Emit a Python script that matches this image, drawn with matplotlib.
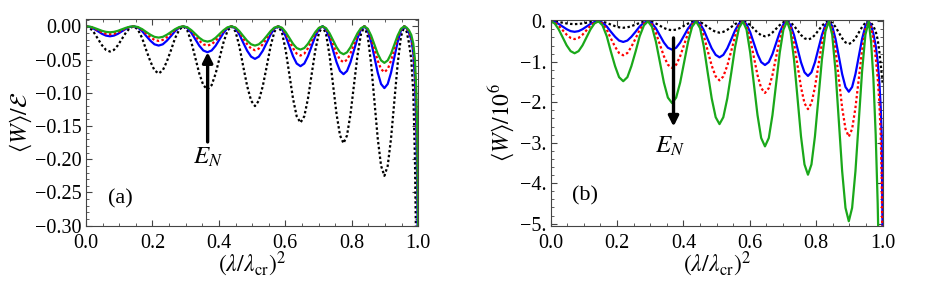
import numpy as np
import matplotlib
matplotlib.use('Agg')
import matplotlib.pyplot as plt
from matplotlib.ticker import MultipleLocator, FuncFormatter

plt.rcParams['font.family'] = ['Liberation Serif', 'DejaVu Serif']
plt.rcParams['mathtext.fontset'] = 'stix'

# x values (lambda/lambda_cr)^2, shared by both panels, 12 readings per hump + the tail
x = [0.000, 0.012, 0.024, 0.036, 0.048, 0.060, 0.072, 0.084, 0.096, 0.108, 0.120, 0.132,
     0.144, 0.156, 0.169, 0.181, 0.194, 0.206, 0.2185, 0.231, 0.243, 0.256, 0.268, 0.281,
     0.293, 0.305, 0.317, 0.329, 0.341, 0.353, 0.3655, 0.378, 0.390, 0.402, 0.414, 0.426,
     0.438, 0.450, 0.4615, 0.473, 0.485, 0.497, 0.5085, 0.520, 0.532, 0.544, 0.5555, 0.567,
     0.579, 0.590, 0.601, 0.612, 0.623, 0.634, 0.6455, 0.657, 0.668, 0.679, 0.690, 0.701,
     0.712, 0.7225, 0.733, 0.7435, 0.754, 0.7645, 0.775, 0.7855, 0.796, 0.8065, 0.817, 0.8275,
     0.838, 0.848, 0.858, 0.868, 0.878, 0.888, 0.898, 0.908, 0.918, 0.928, 0.938, 0.948,
     0.958, 0.965, 0.972, 0.979, 0.985, 0.990, 0.994, 0.997, 1.000]

# panel (a): <W>/E
a_black = [0, -.0025, -.0095, -.019, -.0285, -.0355, -.038, -.0355, -.0285, -.019, -.0095, -.0025,
           0, -.0048, -.0178, -.0355, -.0533, -.0662, -.071, -.0662, -.0533, -.0355, -.0178, -.0048,
           0, -.0064, -.0238, -.0475, -.0713, -.0886, -.095, -.0886, -.0713, -.0475, -.0238, -.0064,
           0, -.008, -.030, -.060, -.090, -.112, -.120, -.112, -.090, -.060, -.030, -.008,
           0, -.0097, -.0363, -.0725, -.1088, -.1353, -.145, -.1353, -.1088, -.0725, -.0363, -.0097,
           0, -.0118, -.044, -.088, -.132, -.1642, -.176, -.1642, -.132, -.088, -.044, -.0118,
           0, -.0151, -.0563, -.1125, -.1688, -.2099, -.225, -.2099, -.1688, -.1125, -.0563, -.0151,
           0, -.008, -.025, -.05, -.10, -.20, -.35, -.50, -.70]
a_blue = [0, -.001, -.0038, -.0075, -.0113, -.014, -.015, -.014, -.0113, -.0075, -.0038, -.001,
          0, -.0019, -.0073, -.0145, -.0218, -.0271, -.029, -.0271, -.0218, -.0145, -.0073, -.0019,
          0, -.0026, -.0098, -.0195, -.0293, -.0364, -.039, -.0364, -.0293, -.0195, -.0098, -.0026,
          0, -.0033, -.0123, -.0245, -.0368, -.0457, -.049, -.0457, -.0368, -.0245, -.0123, -.0033,
          0, -.004, -.015, -.030, -.045, -.056, -.060, -.056, -.045, -.030, -.015, -.004,
          0, -.0048, -.018, -.036, -.054, -.0672, -.072, -.0672, -.054, -.036, -.018, -.0048,
          0, -.0062, -.0233, -.0465, -.0698, -.0868, -.093, -.0868, -.0698, -.0465, -.0233, -.0062,
          0, -.003, -.01, -.02, -.04, -.08, -.15, -.25, -.40]
a_red = [0, -.0008, -.003, -.006, -.009, -.0112, -.012, -.0112, -.009, -.006, -.003, -.0008,
         0, -.0015, -.0055, -.011, -.0165, -.0205, -.022, -.0205, -.0165, -.011, -.0055, -.0015,
         0, -.0019, -.0073, -.0145, -.0218, -.0271, -.029, -.0271, -.0218, -.0145, -.0073, -.0019,
         0, -.0024, -.009, -.018, -.027, -.0336, -.036, -.0336, -.027, -.018, -.009, -.0024,
         0, -.0029, -.011, -.022, -.033, -.0411, -.044, -.0411, -.033, -.022, -.011, -.0029,
         0, -.0036, -.0135, -.027, -.0405, -.0504, -.054, -.0504, -.0405, -.027, -.0135, -.0036,
         0, -.0046, -.0173, -.0345, -.0518, -.0644, -.069, -.0644, -.0518, -.0345, -.0173, -.0046,
         0, -.0025, -.008, -.017, -.033, -.065, -.12, -.20, -.33]
a_green = [0, -.0006, -.0023, -.0045, -.0068, -.0084, -.009, -.0084, -.0068, -.0045, -.0023, -.0006,
           0, -.0011, -.0043, -.0085, -.0128, -.0159, -.017, -.0159, -.0128, -.0085, -.0043, -.0011,
           0, -.0015, -.0058, -.0115, -.0173, -.0215, -.023, -.0215, -.0173, -.0115, -.0058, -.0015,
           0, -.0019, -.0073, -.0145, -.0218, -.0271, -.029, -.0271, -.0218, -.0145, -.0073, -.0019,
           0, -.0023, -.0088, -.0175, -.0263, -.0327, -.035, -.0327, -.0263, -.0175, -.0088, -.0023,
           0, -.0028, -.0105, -.021, -.0315, -.0392, -.042, -.0392, -.0315, -.021, -.0105, -.0028,
           0, -.0037, -.0138, -.0275, -.0413, -.0513, -.055, -.0513, -.0413, -.0275, -.0138, -.0037,
           0, -.002, -.006, -.013, -.026, -.05, -.095, -.16, -.32]

# panel (b): <W>/10^6
b_black = [0, -.005, -.018, -.035, -.053, -.065, -.07, -.065, -.053, -.035, -.018, -.005,
           0, -.011, -.04, -.08, -.12, -.149, -.16, -.149, -.12, -.08, -.04, -.011,
           0, -.015, -.055, -.11, -.165, -.205, -.22, -.205, -.165, -.11, -.055, -.015,
           0, -.019, -.07, -.14, -.21, -.261, -.28, -.261, -.21, -.14, -.07, -.019,
           0, -.025, -.093, -.185, -.278, -.345, -.37, -.345, -.278, -.185, -.093, -.025,
           0, -.030, -.113, -.225, -.338, -.42, -.45, -.42, -.338, -.225, -.113, -.030,
           0, -.038, -.14, -.28, -.42, -.522, -.56, -.522, -.42, -.28, -.14, -.038,
           0, -.04, -.12, -.25, -.45, -.75, -1.05, -1.3, -1.55]
b_blue = [0, -.017, -.065, -.13, -.195, -.243, -.26, -.243, -.195, -.13, -.065, -.017,
          0, -.034, -.128, -.255, -.383, -.476, -.51, -.476, -.383, -.255, -.128, -.034,
          0, -.047, -.175, -.35, -.525, -.653, -.70, -.653, -.525, -.35, -.175, -.047,
          0, -.06, -.223, -.445, -.668, -.83, -.89, -.83, -.668, -.445, -.223, -.06,
          0, -.072, -.27, -.54, -.81, -1.008, -1.08, -1.008, -.81, -.54, -.27, -.072,
          0, -.09, -.338, -.675, -1.013, -1.26, -1.35, -1.26, -1.013, -.675, -.338, -.09,
          0, -.117, -.435, -.87, -1.305, -1.623, -1.74, -1.623, -1.305, -.87, -.435, -.117,
          0, -.1, -.3, -.6, -1.0, -1.5, -2.1, -2.8, -5.5]
b_red = [0, -.029, -.11, -.22, -.33, -.41, -.44, -.41, -.33, -.22, -.11, -.029,
         0, -.056, -.21, -.42, -.63, -.784, -.84, -.784, -.63, -.42, -.21, -.056,
         0, -.077, -.288, -.575, -.863, -1.073, -1.15, -1.073, -.863, -.575, -.288, -.077,
         0, -.098, -.365, -.73, -1.095, -1.362, -1.46, -1.362, -1.095, -.73, -.365, -.098,
         0, -.119, -.443, -.885, -1.328, -1.651, -1.77, -1.651, -1.328, -.885, -.443, -.119,
         0, -.145, -.543, -1.085, -1.628, -2.025, -2.17, -2.025, -1.628, -1.085, -.543, -.145,
         0, -.191, -.713, -1.425, -2.138, -2.659, -2.85, -2.659, -2.138, -1.425, -.713, -.191,
         0, -.15, -.45, -.9, -1.4, -2.0, -2.8, -3.8, -6.0]
b_green = [0, -.053, -.198, -.395, -.593, -.737, -.79, -.737, -.593, -.395, -.198, -.053,
           0, -.099, -.37, -.74, -1.11, -1.381, -1.48, -1.381, -1.11, -.74, -.37, -.099,
           0, -.135, -.505, -1.01, -1.515, -1.885, -2.02, -1.885, -1.515, -1.01, -.505, -.135,
           0, -.17, -.635, -1.27, -1.905, -2.37, -2.54, -2.37, -1.905, -1.27, -.635, -.17,
           0, -.207, -.773, -1.545, -2.318, -2.883, -3.09, -2.883, -2.318, -1.545, -.773, -.207,
           0, -.254, -.948, -1.895, -2.843, -3.536, -3.79, -3.536, -2.843, -1.895, -.948, -.254,
           0, -.331, -1.235, -2.47, -3.705, -4.609, -4.94, -4.609, -3.705, -2.47, -1.235, -.331,
           0, -.5, -1.4, -2.8, -4.5, -6.5, -8.5, -10, -12]

black = 'black'
blue = '#0000ff'
red = '#ff0000'
green = '#1aa81a'
dot = (0, (1.1, 1.1))
lw = 1.6
frame = '#444444'

fig = plt.figure(figsize=(9.26, 2.86), dpi=100)
ax1 = fig.add_axes([0.0929, 0.2108, 0.3588, 0.7228])
ax2 = fig.add_axes([0.5947, 0.2108, 0.3585, 0.7190])


def style(ax):
    ax.set_xlim(0, 1)
    ax.xaxis.set_major_locator(MultipleLocator(0.2))
    ax.xaxis.set_minor_locator(MultipleLocator(0.05))
    ax.xaxis.set_major_formatter(FuncFormatter(lambda v, p: f"{v:.1f}"))
    ax.tick_params(which='both', direction='in', top=True, right=True,
                   color=frame, labelsize=14.5, pad=3)
    ax.tick_params(axis='x', which='major', pad=6)
    ax.tick_params(which='major', length=4, width=0.8)
    ax.tick_params(which='minor', length=2.2, width=0.6)
    for s in ax.spines.values():
        s.set_color(frame)
        s.set_linewidth(0.8)
    ax.set_xlabel(r'$(\lambda/\lambda_{\rm cr})^2$', fontsize=17, labelpad=-2)


# (a)
ax1.plot(x, a_black, color=black, lw=lw, ls=dot)
ax1.plot(x, a_blue, color=blue, lw=lw)
ax1.plot(x, a_red, color=red, lw=lw, ls=dot)
ax1.plot(x, a_green, color=green, lw=lw)
style(ax1)
ax1.set_ylim(-0.30, 0.011)
ax1.yaxis.set_major_locator(MultipleLocator(0.05))
ax1.yaxis.set_minor_locator(MultipleLocator(0.01))
ax1.yaxis.set_major_formatter(FuncFormatter(lambda v, p: f"{v:.2f}".replace('-', '\u2212')))
ax1.set_ylabel(r'$\langle W\rangle/\mathcal{E}$', fontsize=17, labelpad=1)
ax1.text(0.066, -0.26, '(a)', fontsize=16, va='center', ha='left')
ax1.annotate('', xy=(0.366, -0.039), xytext=(0.366, -0.174),
             arrowprops=dict(arrowstyle='-|>', lw=2.4, color='black', mutation_scale=15,
                             shrinkA=0, shrinkB=0))
ax1.text(0.367, -0.197, r'$E_N$', fontsize=18, ha='center', va='center')

# (b)
ax2.plot(x, b_black, color=black, lw=lw, ls=dot)
ax2.plot(x, b_blue, color=blue, lw=lw)
ax2.plot(x, b_red, color=red, lw=lw, ls=dot)
ax2.plot(x, b_green, color=green, lw=lw)
style(ax2)
ax2.set_ylim(-5.05, 0.03)
ax2.yaxis.set_major_locator(MultipleLocator(1))
ax2.yaxis.set_minor_locator(MultipleLocator(0.2))
ax2.yaxis.set_major_formatter(FuncFormatter(lambda v, p: f"{v:.0f}.".replace('-', '\u2212')))
ax2.set_ylabel(r'$\langle W\rangle/10^6$', fontsize=17, labelpad=3)
ax2.text(0.063, -4.31, '(b)', fontsize=16, va='center', ha='left')
ax2.annotate('', xy=(0.370, -2.6), xytext=(0.370, -0.41),
             arrowprops=dict(arrowstyle='-|>', lw=2.4, color='black', mutation_scale=15,
                             shrinkA=0, shrinkB=0))
ax2.text(0.36, -3.1, r'$E_N$', fontsize=18, ha='center', va='center')

fig.savefig('out.png', dpi=100)
